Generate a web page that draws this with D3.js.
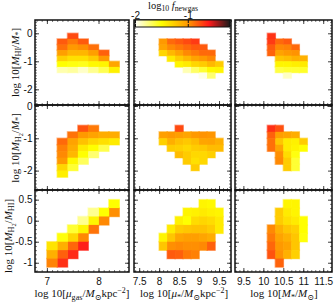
<!DOCTYPE html>
<html>
<head>
<meta charset="utf-8">
<script src="https://cdnjs.cloudflare.com/ajax/libs/d3/7.8.5/d3.min.js"></script>
<style>body{margin:0;background:#fff}</style>
</head>
<body>
<svg id="chart"></svg>
<script>
const width = 335, height = 304;

// histogram bin size (dex)
const binSize = 0.2;

// colour bar
const cbarDomain = [-2, -0.2];
const cbarTicks = [-2, -1];
const cbarStops = [-2, -1.5, -1, -0.6, -0.2];
const cbarColors = ["#ffffff", "#ffff00", "#ff9900", "#ff1a1a", "#1a1a1a"];

// axes: one x axis per column, one y axis per row
const xDomains = [[6.77, 8.59], [7.37, 9.8], [9.29, 11.72]];
const xTicks = [[7, 8], [7.5, 8, 8.5, 9, 9.5], [9.5, 10, 10.5, 11, 11.5]];
const yDomains = [[-2.56, 0.475], [-2.6, 0.03], [-1.22, 0.73]];
const yTicks = [[0, -1, -2], [0, -1, -2], [0.5, 0, -0.5, -1]];

// cells: [x left edge, y bottom edge, log10 f_newgas]
const hiGas = [
  [7.4, -0.2, -0.75],
  [7.2, -0.4, -0.8], [7.4, -0.4, -0.9], [7.6, -0.4, -0.8],
  [7.2, -0.6, -0.87], [7.4, -0.6, -1.0], [7.6, -0.6, -0.97], [7.8, -0.6, -0.87],
  [7.2, -0.8, -1.03], [7.4, -0.8, -1.14], [7.6, -0.8, -1.14], [7.8, -0.8, -1.03], [8.0, -0.8, -0.82],
  [7.2, -1.0, -1.27], [7.4, -1.0, -1.35], [7.6, -1.0, -1.35], [7.8, -1.0, -1.25], [8.0, -1.0, -1.0],
  [7.2, -1.2, -1.5], [7.4, -1.2, -1.53], [7.6, -1.2, -1.55], [7.8, -1.2, -1.47], [8.0, -1.2, -1.45], [8.2, -1.2, -1.06],
  [7.2, -1.4, -1.84], [7.4, -1.4, -1.81], [7.6, -1.4, -1.89], [7.8, -1.4, -1.78], [8.0, -1.4, -1.66], [8.2, -1.4, -1.43]
];
const hiStar = [
  [8.0, -0.4, -1.0], [8.2, -0.4, -0.85], [8.4, -0.4, -0.8], [8.6, -0.4, -0.75], [8.8, -0.4, -0.7],
  [8.0, -0.6, -1.05], [8.2, -0.6, -0.95], [8.4, -0.6, -0.9], [8.6, -0.6, -0.85], [8.8, -0.6, -0.8], [9.0, -0.6, -0.8],
  [8.0, -0.8, -1.3], [8.2, -0.8, -1.15], [8.4, -0.8, -1.05], [8.6, -0.8, -0.95], [8.8, -0.8, -0.9], [9.0, -0.8, -0.85], [9.2, -0.8, -0.85],
  [8.2, -1.0, -1.4], [8.4, -1.0, -1.25], [8.6, -1.0, -1.15], [8.8, -1.0, -1.05], [9.0, -1.0, -1.0], [9.2, -1.0, -0.95],
  [8.4, -1.2, -1.45], [8.6, -1.2, -1.4], [8.8, -1.2, -1.3], [9.0, -1.2, -1.25], [9.2, -1.2, -1.15], [9.4, -1.2, -1.25],
  [8.6, -1.4, -1.85], [8.8, -1.4, -1.7], [9.0, -1.4, -1.6], [9.2, -1.4, -1.47], [9.4, -1.4, -1.45],
  [9.0, -1.6, -1.95], [9.2, -1.6, -1.72]
];
const hiMass = [
  [10.1, -0.2, -0.68],
  [10.1, -0.4, -0.7], [10.3, -0.4, -0.85], [10.5, -0.4, -0.8],
  [10.1, -0.6, -0.8], [10.3, -0.6, -0.95], [10.5, -0.6, -0.93], [10.7, -0.6, -0.85],
  [10.1, -0.8, -0.83], [10.3, -0.8, -1.05], [10.5, -0.8, -1.0], [10.7, -0.8, -0.98],
  [10.3, -1.0, -1.22], [10.5, -1.0, -1.18], [10.7, -1.0, -1.12], [10.9, -1.0, -1.12],
  [10.3, -1.2, -1.45], [10.5, -1.2, -1.45], [10.7, -1.2, -1.42], [10.9, -1.2, -1.4],
  [10.3, -1.4, -1.63], [10.5, -1.4, -1.6], [10.7, -1.4, -1.6], [10.9, -1.4, -1.58],
  [10.5, -1.6, -1.88]
];
const h2Gas = [
  [7.6, -0.8, -0.78], [7.8, -0.8, -0.9],
  [7.4, -1.0, -0.88], [7.6, -1.0, -1.0], [7.8, -1.0, -1.05], [8.0, -1.0, -1.1], [8.2, -1.0, -1.1],
  [7.2, -1.2, -0.85], [7.4, -1.2, -1.05], [7.6, -1.2, -1.2], [7.8, -1.2, -1.3], [8.0, -1.2, -1.35], [8.2, -1.2, -1.4],
  [7.2, -1.4, -0.92], [7.4, -1.4, -1.1], [7.6, -1.4, -1.4], [7.8, -1.4, -1.5], [8.0, -1.4, -1.65],
  [7.2, -1.6, -0.95], [7.4, -1.6, -1.15], [7.6, -1.6, -1.5], [7.8, -1.6, -1.72],
  [7.2, -1.8, -1.0], [7.4, -1.8, -1.47], [7.6, -1.8, -1.68],
  [7.2, -2.0, -1.3], [7.4, -2.0, -1.6],
  [7.2, -2.2, -1.42]
];
const h2Star = [
  [8.4, -0.8, -0.75],
  [8.0, -1.0, -1.03], [8.2, -1.0, -1.0], [8.4, -1.0, -1.03], [8.6, -1.0, -1.06], [8.8, -1.0, -1.0], [9.0, -1.0, -0.98], [9.2, -1.0, -0.99],
  [8.0, -1.2, -1.27], [8.2, -1.2, -1.11], [8.4, -1.2, -1.19], [8.6, -1.2, -1.23], [8.8, -1.2, -1.17], [9.0, -1.2, -1.06], [9.2, -1.2, -1.05], [9.4, -1.2, -1.11],
  [8.2, -1.4, -1.25], [8.4, -1.4, -1.27], [8.6, -1.4, -1.31], [8.8, -1.4, -1.25], [9.0, -1.4, -1.23], [9.2, -1.4, -1.17], [9.4, -1.4, -1.17],
  [8.4, -1.6, -1.17], [8.6, -1.6, -1.25], [8.8, -1.6, -1.31], [9.0, -1.6, -1.31], [9.2, -1.6, -1.27],
  [8.6, -1.8, -1.25], [8.8, -1.8, -1.35], [9.0, -1.8, -1.31],
  [8.8, -2.0, -1.25]
];
const h2Mass = [
  [10.1, -0.8, -0.67], [10.3, -0.8, -0.77],
  [10.1, -1.0, -0.82], [10.3, -1.0, -1.03], [10.5, -1.0, -1.06], [10.7, -1.0, -1.1],
  [10.1, -1.2, -0.87], [10.3, -1.2, -1.22], [10.5, -1.2, -1.4], [10.7, -1.2, -1.43], [10.9, -1.2, -1.25],
  [10.1, -1.4, -0.87], [10.3, -1.4, -1.06], [10.5, -1.4, -1.4], [10.7, -1.4, -1.45], [10.9, -1.4, -1.5],
  [10.3, -1.6, -0.97], [10.5, -1.6, -1.33], [10.7, -1.6, -1.53],
  [10.3, -1.8, -0.95], [10.5, -1.8, -1.25], [10.7, -1.8, -1.6],
  [10.5, -2.0, -1.25], [10.7, -2.0, -1.6]
];
const ratioGas = [
  [8.2, 0.3, -1.5], [8.2, 0.1, -0.97],
  [8.0, 0.1, -1.5], [8.0, -0.1, -0.95],
  [7.8, 0.1, -1.78], [7.8, -0.1, -1.45], [7.8, -0.3, -0.88],
  [7.6, -0.1, -1.78], [7.6, -0.3, -1.45], [7.6, -0.5, -0.95], [7.6, -0.7, -0.62],
  [7.4, -0.3, -1.6], [7.4, -0.5, -1.3], [7.4, -0.7, -0.84], [7.4, -0.9, -0.65],
  [7.2, -0.5, -1.52], [7.2, -0.7, -1.11], [7.2, -0.9, -0.82], [7.2, -1.1, -0.67],
  [7.0, -0.7, -1.37], [7.0, -0.9, -1.11], [7.0, -1.1, -0.93]
];
const ratioStar = [
  [9.0, 0.3, -1.45], [9.2, 0.3, -1.47],
  [8.6, 0.1, -1.45], [8.8, 0.1, -1.43], [9.0, 0.1, -1.4], [9.2, 0.1, -1.43], [9.4, 0.1, -1.45],
  [8.4, -0.1, -1.43], [8.6, -0.1, -1.5], [8.8, -0.1, -1.33], [9.0, -0.1, -1.3], [9.2, -0.1, -1.33], [9.4, -0.1, -1.4],
  [8.2, -0.3, -1.4], [8.4, -0.3, -1.25], [8.6, -0.3, -1.22], [8.8, -0.3, -1.2], [9.0, -0.3, -1.2], [9.2, -0.3, -1.25], [9.4, -0.3, -1.4],
  [8.0, -0.5, -1.45], [8.2, -0.5, -1.22], [8.4, -0.5, -1.06], [8.6, -0.5, -1.03], [8.8, -0.5, -1.03], [9.0, -0.5, -1.06], [9.2, -0.5, -1.1],
  [8.0, -0.7, -1.22], [8.2, -0.7, -0.97], [8.4, -0.7, -0.95], [8.6, -0.7, -0.97], [8.8, -0.7, -0.97], [9.0, -0.7, -0.95], [9.2, -0.7, -0.82],
  [8.2, -0.9, -0.8], [8.4, -0.9, -0.82], [8.6, -0.9, -0.9], [8.8, -0.9, -0.92]
];
const ratioMass = [
  [10.5, 0.3, -1.45], [10.7, 0.3, -1.45],
  [10.3, 0.1, -1.25], [10.5, 0.1, -1.4], [10.7, 0.1, -1.45],
  [10.3, -0.1, -1.25], [10.5, -0.1, -1.35], [10.7, -0.1, -1.4], [10.9, -0.1, -1.5],
  [10.1, -0.3, -0.95], [10.3, -0.3, -1.12], [10.5, -0.3, -1.22], [10.7, -0.3, -1.27], [10.9, -0.3, -1.5],
  [10.1, -0.5, -0.9], [10.3, -0.5, -1.05], [10.5, -0.5, -1.12], [10.7, -0.5, -1.22], [10.9, -0.5, -1.52],
  [10.1, -0.7, -0.84], [10.3, -0.7, -1.0], [10.5, -0.7, -1.05], [10.7, -0.7, -1.22],
  [10.1, -0.9, -0.78], [10.3, -0.9, -0.98], [10.5, -0.9, -1.12], [10.7, -0.9, -1.27],
  [10.3, -1.1, -0.83]
];

// axis titles as [text, style] runs: n normal, i italic, s sub, ss sub-sub, p sup
const yTitles = [
  [["log 10[", "n"], ["M", "i"], ["HI", "s"], ["/", "n"], ["M", "i"], ["*", "s"], ["]", "n"]],
  [["log 10[", "n"], ["M", "i"], ["H", "s"], ["2", "ss"], ["/", "n"], ["M", "i"], ["*", "s"], ["]", "n"]],
  [["log 10[", "n"], ["M", "i"], ["H", "s"], ["2", "ss"], ["/", "n"], ["M", "i"], ["HI", "s"], ["]", "n"]]
];
const xTitles = [
  [["log 10[", "n"], ["\u03bc", "i"], ["gas", "s"], ["/", "n"], ["M", "i"], ["\u2299", "s"], ["kpc", "n"], ["\u22122", "p"], ["]", "n"]],
  [["log 10[", "n"], ["\u03bc", "i"], ["*", "s"], ["/", "n"], ["M", "i"], ["\u2299", "s"], ["kpc", "n"], ["\u22122", "p"], ["]", "n"]],
  [["log 10[", "n"], ["M", "i"], ["*", "s"], ["/", "n"], ["M", "i"], ["\u2299", "s"], ["]", "n"]]
];
const cbarTitle = [["log", "n"], ["10", "s"], [" ", "n"], ["f", "i"], ["newgas", "s"]];

const panelData = [
  [hiGas, hiStar, hiMass],
  [h2Gas, h2Star, h2Mass],
  [ratioGas, ratioStar, ratioMass]
];

// layout (pixels)
const colX = [[35, 129], [134, 231], [235, 332]];
const rowY = [[20, 105], [105, 190], [190, 272]];
const serif = "'Liberation Serif', 'DejaVu Serif', serif";
const sans = "'Liberation Sans', Arial, sans-serif";

const svg = d3.select("#chart")
    .attr("width", width)
    .attr("height", height)
    .style("display", "block");

const color = d3.scaleLinear().domain(cbarStops).range(cbarColors).clamp(true);

function minorTicks(domain, step) {
    const lo = Math.ceil(domain[0] / step), hi = Math.floor(domain[1] / step);
    return d3.range(lo, hi + 1).map(k => +(k * step).toFixed(3));
}

function richText(text, parts, size, subShift = 0.25) {
    let shift = 0;
    parts.forEach(([str, kind]) => {
        let target = 0, fs = size;
        if (kind === "s") { target = size * subShift; fs = size * 0.74; }
        if (kind === "ss") { target = size * 0.42; fs = size * 0.58; }
        if (kind === "p") { target = -size * 0.38; fs = size * 0.72; }
        text.append("tspan")
            .attr("dy", (target - shift).toFixed(2))
            .attr("font-size", fs)
            .attr("font-style", kind === "i" ? "italic" : "normal")
            .text(str);
        shift = target;
    });
}

const xScales = xDomains.map((d, i) => d3.scaleLinear().domain(d).range(colX[i]));
const yScales = yDomains.map((d, i) => d3.scaleLinear().domain(d).range([rowY[i][1], rowY[i][0]]));

panelData.forEach((rowData, r) => {
    rowData.forEach((cells, c) => {
        const x = xScales[c], y = yScales[r];
        const g = svg.append("g");
        const clipId = `clip-${r}-${c}`;
        svg.append("clipPath").attr("id", clipId).append("rect")
            .attr("x", colX[c][0]).attr("y", rowY[r][0])
            .attr("width", colX[c][1] - colX[c][0]).attr("height", rowY[r][1] - rowY[r][0]);
        const cg = g.append("g").attr("clip-path", `url(#${clipId})`);

        // soft halo under the cells
        cg.selectAll("rect.halo")
            .data(cells)
            .enter()
            .append("rect")
            .attr("class", "halo")
            .attr("x", d => x(d[0]) - 0.8)
            .attr("y", d => y(d[1] + binSize) - 0.8)
            .attr("width", d => x(d[0] + binSize) - x(d[0]) + 1.6)
            .attr("height", d => y(d[1]) - y(d[1] + binSize) + 1.6)
            .attr("fill", d => color(d[2]))
            .attr("opacity", 0.45);

        cg.selectAll("rect.cell")
            .data(cells)
            .enter()
            .append("rect")
            .attr("class", "cell")
            .attr("x", d => x(d[0]))
            .attr("y", d => y(d[1] + binSize))
            .attr("width", d => x(d[0] + binSize) - x(d[0]) + 0.3)
            .attr("height", d => y(d[1]) - y(d[1] + binSize) + 0.3)
            .attr("fill", d => color(d[2]));

        // ticks on all four sides, pointing inward
        const xMinor = minorTicks(xDomains[c], 0.1);
        const yMinor = minorTicks(yDomains[r], 0.1);
        const axes = [
            [d3.axisBottom(x), `translate(0,${rowY[r][1]})`, xMinor, xTicks[c], r === 2, 6],
            [d3.axisTop(x), `translate(0,${rowY[r][0]})`, xMinor, xTicks[c], false, 2],
            [d3.axisLeft(y), `translate(${colX[c][0]},0)`, yMinor, yTicks[r], c === 0, 2.5],
            [d3.axisRight(y), `translate(${colX[c][1]},0)`, yMinor, yTicks[r], false, 2]
        ];
        axes.forEach(([axis, tr, minor, major, labelled, pad]) => {
            const am = g.append("g").attr("transform", tr)
                .call(axis.tickValues(minor).tickSize(-2).tickFormat(""));
            am.select(".domain").remove();
            am.selectAll("line").attr("stroke", "#222").attr("stroke-width", 0.6);
            const ax = g.append("g").attr("transform", tr)
                .call(axis.tickValues(major).tickSize(-4).tickPadding(pad)
                    .tickFormat(labelled ? (d => String(d)) : ""));
            ax.select(".domain").remove();
            ax.selectAll("line").attr("stroke", "#111").attr("stroke-width", 0.8);
            ax.selectAll("text").attr("font-family", sans).attr("font-size", 10).attr("fill", "#111");
        });

        g.append("rect")
            .attr("x", colX[c][0]).attr("y", rowY[r][0])
            .attr("width", colX[c][1] - colX[c][0]).attr("height", rowY[r][1] - rowY[r][0])
            .attr("fill", "none").attr("stroke", "#111").attr("stroke-width", 1.5);
    });
});

// colour bar
const cbX = d3.scaleLinear().domain(cbarDomain).range([135, 230]);
const grad = svg.append("defs").append("linearGradient").attr("id", "cbar-grad");
grad.selectAll("stop")
    .data(cbarStops)
    .enter()
    .append("stop")
    .attr("offset", d => (cbX(d) - 135) / 95)
    .attr("stop-color", d => color(d));
svg.append("rect")
    .attr("x", cbX(cbarDomain[0])).attr("y", 20)
    .attr("width", cbX(cbarDomain[1]) - cbX(cbarDomain[0])).attr("height", 7)
    .attr("fill", "url(#cbar-grad)")
    .attr("stroke", "#111").attr("stroke-width", 1);
const cbAxisTop = svg.append("g").attr("transform", "translate(0,20)")
    .call(d3.axisTop(cbX).tickValues(cbarTicks).tickSize(3).tickPadding(2).tickFormat(d => String(d)));
cbAxisTop.select(".domain").remove();
cbAxisTop.selectAll("line").attr("y2", 3).attr("stroke", "#111");
cbAxisTop.selectAll("text").attr("font-family", sans).attr("font-size", 10).attr("fill", "#111")
    .attr("y", -1.5);
const cbAxisBot = svg.append("g").attr("transform", "translate(0,27)")
    .call(d3.axisBottom(cbX).tickValues(cbarTicks).tickSize(-3).tickFormat(""));
cbAxisBot.select(".domain").remove();
cbAxisBot.selectAll("line").attr("stroke", "#111");

richText(svg.append("text")
    .attr("x", 173).attr("y", 9)
    .attr("text-anchor", "middle")
    .attr("font-family", serif).attr("font-size", 10.5).attr("fill", "#111"), cbarTitle, 10.5, 0.16);

// axis titles
const yTitleX = [18.5, 18.5, 11.5];
const yTitleCenters = [62.5, 148, 236];
yTitles.forEach((parts, r) => {
    const t = svg.append("text")
        .attr("transform", `translate(${yTitleX[r]},${yTitleCenters[r]}) rotate(-90)`)
        .attr("text-anchor", "middle")
        .attr("font-family", serif).attr("font-size", 11).attr("fill", "#111");
    richText(t, parts, 11);
});
const xTitleCenters = [82, 184, 284];
xTitles.forEach((parts, c) => {
    const t = svg.append("text")
        .attr("x", xTitleCenters[c]).attr("y", 297)
        .attr("text-anchor", "middle")
        .attr("font-family", serif).attr("font-size", 11).attr("fill", "#111");
    richText(t, parts, 11);
});
</script>
</body>
</html>
